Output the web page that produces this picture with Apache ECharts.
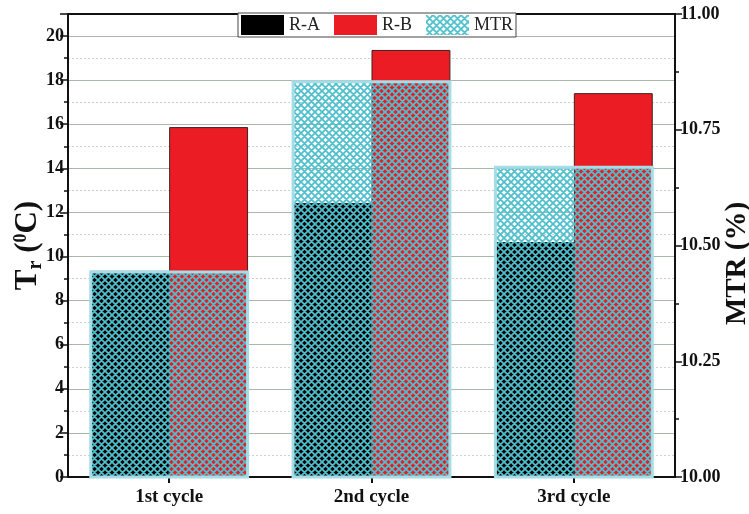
<!DOCTYPE html>
<html>
<head>
<meta charset="utf-8">
<script src="https://cdn.jsdelivr.net/npm/echarts@6/dist/echarts.min.js"></script>
<style>
html,body{margin:0;padding:0;background:#fff;}
#c{width:749px;height:514px;}
</style>
</head>
<body>
<div id="c"></div>
<script>
// ---- data ----
var categories = ['1st cycle', '2nd cycle', '3rd cycle'];
var seriesNames = ['R-A', 'R-B', 'MTR'];
var raValues = [9.35, 12.43, 10.66];
var rbValues = [15.87, 19.37, 17.41];
var mtrValues = [10.446, 10.857, 10.672];
var leftTicks = {min: 0, max: 21, interval: 2};
var rightTicks = {min: 10, max: 11, interval: 0.25};

// ---- hatch pattern ----
function makeHatch(color, size, lw) {
  var c = document.createElement('canvas');
  c.width = size; c.height = size;
  var ctx = c.getContext('2d');
  ctx.strokeStyle = color;
  ctx.lineWidth = lw;
  ctx.beginPath();
  for (var k = -1; k <= 1; k++) {
    ctx.moveTo(k * size, 0); ctx.lineTo(k * size + size, size);
    ctx.moveTo(k * size, size); ctx.lineTo(k * size + size, 0);
  }
  ctx.stroke();
  return c;
}
var hatch = makeHatch('#4dbfcd', 7, 1.8);

var FONT = '"Liberation Serif", "Times New Roman", serif';
var chart = echarts.init(document.getElementById('c'), null, {renderer: 'canvas'});

var option = {
  backgroundColor: '#fff',
  animation: false,
  grid: {left: 68, right: 74, top: 14, bottom: 37, containLabel: false, outerBoundsMode: 'none'},
  legend: {
    left: 238, top: 13,
    itemWidth: 43, itemHeight: 20, itemGap: 14,
    padding: [2, 3, 2, 3],
    borderColor: '#444', borderWidth: 1,
    backgroundColor: '#fff',
    icon: 'rect',
    textStyle: {fontFamily: FONT, fontSize: 18, color: '#222'},
    data: [
      {name: seriesNames[0], itemStyle: {borderWidth: 0}},
      {name: seriesNames[1], itemStyle: {borderWidth: 0}},
      {name: seriesNames[2], itemStyle: {borderWidth: 0}}
    ]
  },
  xAxis: [
    {
      type: 'category', data: categories, position: 'bottom',
      axisLine: {show: true, onZero: false, lineStyle: {color: '#111', width: 2}},
      axisTick: {show: true, alignWithLabel: true, length: 6, lineStyle: {color: '#111', width: 2}},
      axisLabel: {fontFamily: FONT, fontSize: 19, fontWeight: 'bold', color: '#111', margin: 11},
      splitLine: {show: false}
    },
    {
      type: 'category', data: categories, position: 'top',
      axisLine: {show: true, onZero: false, lineStyle: {color: '#111', width: 2}},
      axisTick: {show: false}, axisLabel: {show: false}, splitLine: {show: false}
    }
  ],
  yAxis: [
    {
      type: 'value', position: 'left',
      min: leftTicks.min, max: leftTicks.max, interval: leftTicks.interval,
      name: '{t|T}{s|r}{t| (}{p|0}{t|C)}',
      nameLocation: 'middle', nameGap: 22, nameRotate: 90, nameMoveOverlap: false,
      nameTextStyle: {
        rich: {
          t: {fontFamily: FONT, fontSize: 31, fontWeight: 'bold', color: '#111', lineHeight: 36},
          s: {fontFamily: FONT, fontSize: 20, fontWeight: 'bold', color: '#111', lineHeight: 36, padding: [15, 0, 0, 0]},
          p: {fontFamily: FONT, fontSize: 18, fontWeight: 'bold', color: '#111', lineHeight: 36, padding: [0, 0, 13, 0]}
        }
      },
      axisLine: {show: true, onZero: false, lineStyle: {color: '#111', width: 2}},
      axisTick: {show: true, length: 8, lineStyle: {color: '#111', width: 1.5}},
      minorTick: {show: true, splitNumber: 2, length: 4, lineStyle: {color: '#111', width: 1.5}},
      axisLabel: {fontFamily: FONT, fontSize: 18, fontWeight: 'bold', color: '#111', margin: 4, showMaxLabel: false},
      splitLine: {show: true, lineStyle: {color: '#a8b8a8', width: 1.2}}
    },
    {
      type: 'value', position: 'right',
      min: rightTicks.min, max: rightTicks.max, interval: rightTicks.interval,
      name: 'MTR (%)', nameLocation: 'middle', nameGap: 48, nameRotate: 90, nameMoveOverlap: false,
      nameTextStyle: {fontFamily: FONT, fontSize: 29, fontWeight: 'bold', color: '#111', padding: [0, 36, 0, 0]},
      axisLine: {show: true, onZero: false, lineStyle: {color: '#111', width: 2}},
      axisTick: {show: true, length: 7, lineStyle: {color: '#111', width: 1.5}},
      minorTick: {show: true, splitNumber: 2, length: 4, lineStyle: {color: '#111', width: 1.5}},
      axisLabel: {fontFamily: FONT, fontSize: 18, fontWeight: 'bold', color: '#111', margin: 5,
        formatter: function (v) { return v.toFixed(2); }},
      splitLine: {show: false}
    },
    {
      type: 'value', position: 'left', show: true,
      min: 0, max: 21, interval: 1,
      axisLine: {show: false}, axisTick: {show: false}, axisLabel: {show: false},
      splitLine: {show: true, showMinLine: true, lineStyle: {color: ['rgba(0,0,0,0)', '#c9d3c9'], type: [2, 2], width: 1}}
    }
  ],
  series: [
    {
      name: seriesNames[0], type: 'bar', xAxisIndex: 0, yAxisIndex: 0,
      data: raValues, barWidth: '39%', barGap: '0%', z: 2,
      itemStyle: {color: '#000', borderColor: '#222', borderWidth: 1}
    },
    {
      name: seriesNames[1], type: 'bar', xAxisIndex: 0, yAxisIndex: 0,
      data: rbValues, barWidth: '39%', barGap: '0%', z: 2,
      itemStyle: {color: '#ec1c24', borderColor: '#3a2020', borderWidth: 1}
    },
    {
      name: seriesNames[2], type: 'bar', xAxisIndex: 1, yAxisIndex: 1,
      data: mtrValues, barWidth: '79%', z: 3,
      itemStyle: {color: {image: hatch, repeat: 'repeat'}, borderColor: '#a6dce5', borderWidth: 3}
    }
  ]
};
chart.setOption(option);
</script>
</body>
</html>
